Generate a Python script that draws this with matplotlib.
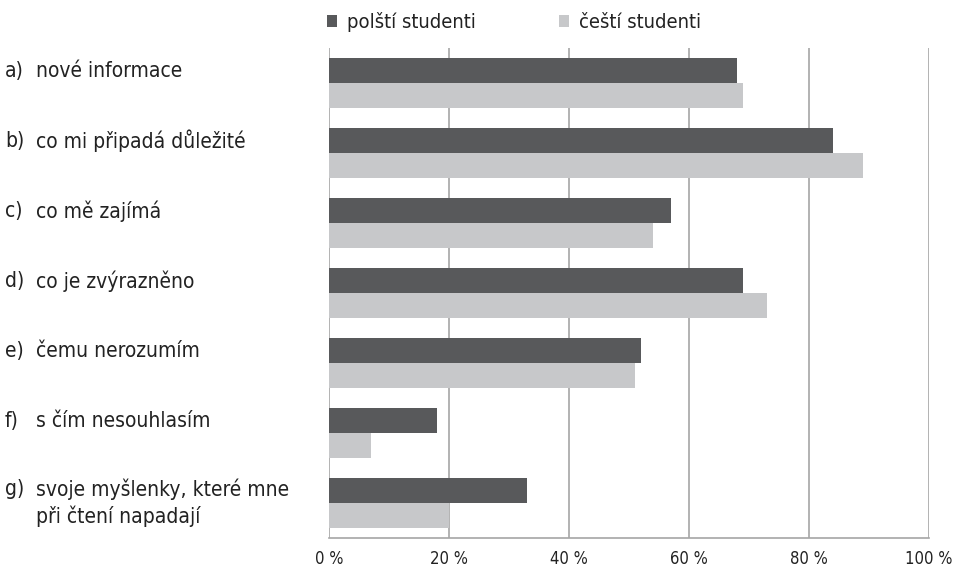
import matplotlib
matplotlib.use("Agg")
import matplotlib.pyplot as plt
import matplotlib.transforms as mtransforms
import numpy as np

letters = ["a)", "b)", "c)", "d)", "e)", "f)", "g)"]
categories = [
    "nové informace",
    "co mi připadá důležité",
    "co mě zajímá",
    "co je zvýrazněno",
    "čemu nerozumím",
    "s čím nesouhlasím",
    "svoje myšlenky, které mne\npři čtení napadají",
]
polish = [68, 84, 57, 69, 52, 18, 33]
czech = [69, 89, 54, 73, 51, 7, 20]
series_names = ["polští studenti", "čeští studenti"]
xticks = [0, 20, 40, 60, 80, 100]

DARK = "#58595b"
LIGHT = "#c7c8ca"
GRID = "#a6a6a6"
TEXT = "#222222"

plt.rcParams["font.family"] = "DejaVu Sans"
plt.rcParams["font.stretch"] = "condensed"

fig = plt.figure(figsize=(9.54, 5.67), dpi=100)
ax = fig.add_axes([329 / 954, 1 - 538 / 567, 600 / 954, 490 / 567])

y = np.arange(len(categories))
h = 0.36
ax.barh(y - h / 2, polish, h, color=DARK, label=series_names[0], zorder=2)
ax.barh(y + h / 2, czech, h, color=LIGHT, label=series_names[1], zorder=2)

ax.set_xlim(0, 100)
ax.set_ylim(len(categories) - 0.5, -0.5)
ax.set_xticks(xticks)
ax.set_xticklabels([f"{v} %" for v in xticks], fontsize=12, color=TEXT)
ax.set_yticks([])
ax.xaxis.grid(True, color=GRID, linewidth=1.2, zorder=0)
ax.tick_params(axis="x", length=0, pad=9)
for s in ["top", "right", "left"]:
    ax.spines[s].set_visible(False)
ax.spines["bottom"].set_color(GRID)
ax.spines["bottom"].set_linewidth(1.2)

# category labels: letter at far left, text indented
trans = mtransforms.blended_transform_factory(fig.transFigure, ax.transData)
for i, (let, cat) in enumerate(zip(letters, categories)):
    if "\n" in cat:
        yy, ly = i, i - 0.2
    else:
        yy = ly = i - 0.17
    ax.text(5 / 954, ly, let, transform=trans, fontsize=15, va="center", ha="left", color=TEXT)
    ax.text(36 / 954, yy, cat, transform=trans, fontsize=15, va="center", ha="left",
            color=TEXT, linespacing=1.3)

leg = fig.legend(loc="center left", bbox_to_anchor=(309 / 954, 1 - 22 / 567), ncol=2,
                 frameon=False, fontsize=14.5, handlelength=0.5, handleheight=0.5,
                 handletextpad=0.5, columnspacing=4.1, labelcolor=TEXT)

fig.savefig("out.png", dpi=100)
